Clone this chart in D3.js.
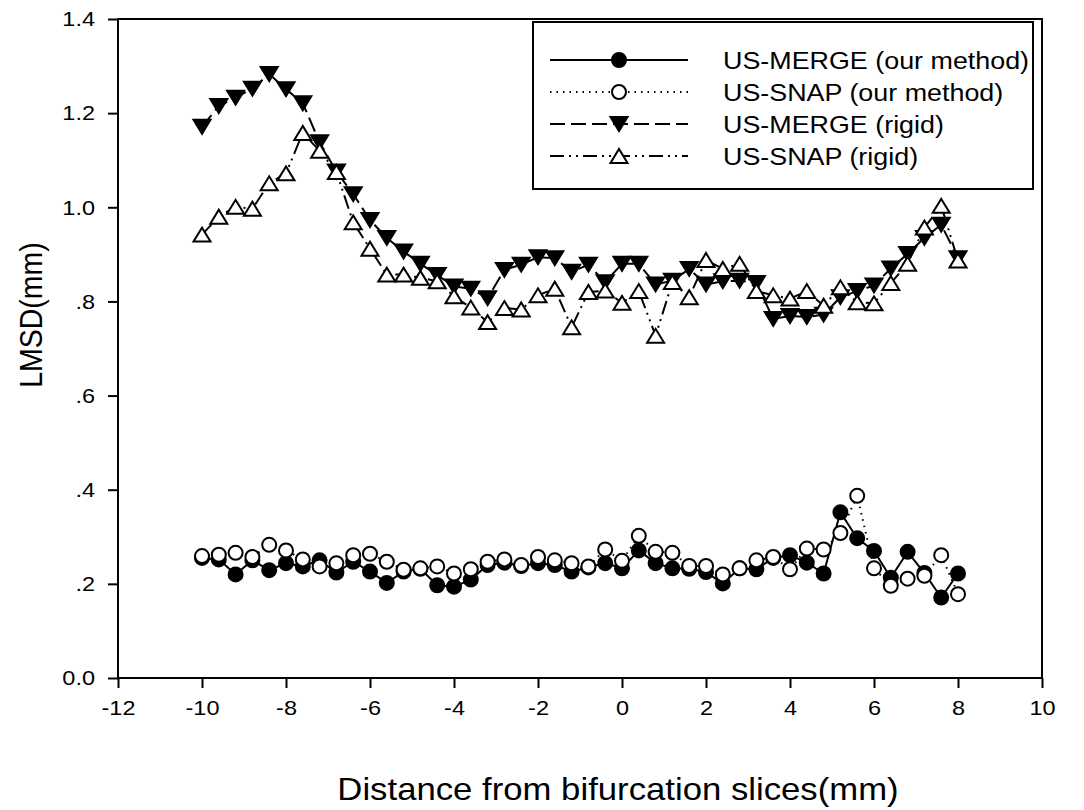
<!DOCTYPE html>
<html>
<head>
<meta charset="utf-8">
<script src="https://cdn.jsdelivr.net/npm/d3@7"></script>
<style>
  html, body { margin: 0; padding: 0; background: #fff; }
  svg { display: block; font-family: "Liberation Sans", Arial, sans-serif; }
</style>
</head>
<body>
<svg id="chart" width="1084" height="810"></svg>
<script>
// Slice positions relative to the bifurcation (mm)
const distance = [-10, -9.6, -9.2, -8.8, -8.4, -8, -7.6, -7.2, -6.8, -6.4, -6, -5.6, -5.2, -4.8, -4.4, -4,
  -3.6, -3.2, -2.8, -2.4, -2, -1.6, -1.2, -0.8, -0.4, 0, 0.4, 0.8, 1.2, 1.6, 2, 2.4, 2.8, 3.2, 3.6, 4,
  4.4, 4.8, 5.2, 5.6, 6, 6.4, 6.8, 7.2, 7.6, 8];

// LMSD (mm) per slice for each registration
const mergeOurs = [0.255, 0.252, 0.220, 0.250, 0.229, 0.244, 0.237, 0.250, 0.224, 0.247, 0.226, 0.202,
  0.226, 0.232, 0.197, 0.194, 0.209, 0.240, 0.245, 0.238, 0.244, 0.240, 0.226, 0.235, 0.244, 0.233,
  0.271, 0.244, 0.233, 0.232, 0.225, 0.201, 0.233, 0.231, 0.255, 0.261, 0.245, 0.222, 0.352, 0.297,
  0.270, 0.213, 0.268, 0.223, 0.171, 0.222];
const snapOurs = [0.259, 0.262, 0.266, 0.257, 0.283, 0.271, 0.252, 0.237, 0.244, 0.261, 0.264, 0.247,
  0.230, 0.233, 0.237, 0.222, 0.231, 0.247, 0.252, 0.240, 0.257, 0.250, 0.244, 0.237, 0.273, 0.249,
  0.302, 0.268, 0.266, 0.238, 0.238, 0.220, 0.233, 0.250, 0.257, 0.231, 0.275, 0.273, 0.308, 0.387,
  0.233, 0.196, 0.211, 0.217, 0.261, 0.178];
const mergeRigid = [1.171, 1.215, 1.233, 1.252, 1.283, 1.251, 1.221, 1.138, 1.076, 1.028, 0.973, 0.935,
  0.906, 0.880, 0.856, 0.832, 0.827, 0.807, 0.867, 0.878, 0.894, 0.892, 0.863, 0.878, 0.841, 0.880,
  0.880, 0.836, 0.844, 0.869, 0.836, 0.843, 0.844, 0.839, 0.763, 0.769, 0.767, 0.772, 0.809, 0.822,
  0.834, 0.870, 0.901, 0.935, 0.963, 0.892];
const snapRigid = [0.942, 0.980, 1.001, 0.997, 1.051, 1.072, 1.158, 1.120, 1.075, 0.968, 0.912, 0.857,
  0.857, 0.850, 0.843, 0.811, 0.787, 0.756, 0.786, 0.783, 0.813, 0.827, 0.745, 0.820, 0.823, 0.797,
  0.822, 0.727, 0.841, 0.809, 0.888, 0.869, 0.880, 0.822, 0.813, 0.806, 0.822, 0.791, 0.830, 0.798,
  0.796, 0.839, 0.880, 0.957, 1.003, 0.887];

const seriesNames = ["US-MERGE (our method)", "US-SNAP (our method)", "US-MERGE (rigid)", "US-SNAP (rigid)"];

const xTicks = [-12, -10, -8, -6, -4, -2, 0, 2, 4, 6, 8, 10];
const xTickLabels = ["-12", "-10", "-8", "-6", "-4", "-2", "0", "2", "4", "6", "8", "10"];
const yTicks = [0, 0.2, 0.4, 0.6, 0.8, 1.0, 1.2, 1.4];
const yTickLabels = ["0.0", ".2", ".4", ".6", ".8", "1.0", "1.2", "1.4"];

const xTitle = "Distance from bifurcation slices(mm)";
const yTitle = "LMSD(mm)";

// ---- layout ----
const svg = d3.select("#chart");
const plot = { left: 118, right: 1042, top: 19, bottom: 678 };
const STRETCH = 1.12;   // glyphs are drawn slightly wide

const x = d3.scaleLinear().domain([-12, 10]).range([plot.left, plot.right]);
const y = d3.scaleLinear().domain([0, 1.4]).range([plot.bottom, plot.top]);

// ---- axes ----
const xAxis = svg.append("g")
  .attr("transform", `translate(0,${plot.bottom})`)
  .call(d3.axisBottom(x).tickValues(xTicks).tickFormat((d, i) => xTickLabels[i]).tickSize(10).tickSizeOuter(0).tickPadding(12));
const yAxis = svg.append("g")
  .attr("transform", `translate(${plot.left},0)`)
  .call(d3.axisLeft(y).tickValues(yTicks).tickFormat((d, i) => yTickLabels[i]).tickSize(10).tickSizeOuter(0).tickPadding(13));

[xAxis, yAxis].forEach(g => {
  g.select(".domain").remove();
  g.selectAll(".tick line").attr("stroke", "#000").attr("stroke-width", 2);
  g.selectAll(".tick text").attr("fill", "#000").attr("font-size", 21);
});
yAxis.selectAll(".tick text").each(function () {
  const t = d3.select(this);
  t.attr("x", +t.attr("x") / STRETCH).attr("transform", `scale(${STRETCH},1)`);
});
xAxis.selectAll(".tick text").attr("transform", `scale(${STRETCH},1)`);

// plot frame
svg.append("rect")
  .attr("x", plot.left).attr("y", plot.top)
  .attr("width", plot.right - plot.left).attr("height", plot.bottom - plot.top)
  .attr("fill", "none").attr("stroke", "#000").attr("stroke-width", 2);

// ---- markers ----
function triPath(size, down) {
  const w = size, h = size * 0.82;
  const s = down ? 1 : -1;
  return `M${-w / 2},${-s * h / 2}L${w / 2},${-s * h / 2}L0,${s * h / 2}Z`;
}
const styles = [
  { values: mergeOurs, dash: null, marker: "circle", fill: "#000" },
  { values: snapOurs, dash: "1.5,5", marker: "circle", fill: "#fff" },
  { values: mergeRigid, dash: "15,6", marker: "down", fill: "#000" },
  { values: snapRigid, dash: "14,5,2,5,2,5", marker: "up", fill: "#fff" }
];

function drawMarker(g, s) {
  if (s.marker === "circle") {
    g.append("circle").attr("r", 7).attr("fill", s.fill).attr("stroke", "#000").attr("stroke-width", 2);
  } else {
    g.append("path").attr("d", triPath(17, s.marker === "down"))
      .attr("fill", s.fill).attr("stroke", "#000").attr("stroke-width", 2).attr("stroke-linejoin", "miter");
  }
}

const line = d3.line().x(d => x(d[0])).y(d => y(d[1]));

styles.forEach(s => {
  const pts = distance.map((d, i) => [d, s.values[i]]);
  svg.append("path").datum(pts)
    .attr("d", line)
    .attr("fill", "none").attr("stroke", "#000").attr("stroke-width", 2)
    .attr("stroke-dasharray", s.dash);
  const mg = svg.append("g").selectAll("g").data(pts).join("g")
    .attr("transform", d => `translate(${x(d[0])},${y(d[1])})`);
  mg.each(function () { drawMarker(d3.select(this), s); });
});

// ---- legend ----
const legend = svg.append("g");
legend.append("rect")
  .attr("x", 533).attr("y", 22).attr("width", 500).attr("height", 167)
  .attr("fill", "#fff").attr("stroke", "#000").attr("stroke-width", 2);
styles.forEach((s, i) => {
  const ly = 60 + i * 32;
  const row = legend.append("g").attr("transform", `translate(0,${ly})`);
  row.append("line").attr("x1", 550).attr("x2", 688).attr("y1", 0).attr("y2", 0)
    .attr("stroke", "#000").attr("stroke-width", 2).attr("stroke-dasharray", s.dash);
  drawMarker(row.append("g").attr("transform", "translate(619,0)"), s);
  row.append("text")
    .attr("transform", `translate(723,0) scale(${STRETCH},1)`)
    .attr("dy", "0.36em").attr("font-size", 24).attr("fill", "#000")
    .text(seriesNames[i]);
});

// ---- axis titles ----
svg.append("text")
  .attr("transform", `translate(618,789) scale(${STRETCH},1)`)
  .attr("text-anchor", "middle").attr("dy", "0.36em")
  .attr("font-size", 31).attr("fill", "#000")
  .text(xTitle);
svg.append("text")
  .attr("transform", `translate(30,315) rotate(-90) scale(1,${STRETCH})`)
  .attr("text-anchor", "middle").attr("dy", "0.36em")
  .attr("font-size", 28.5).attr("fill", "#000")
  .text(yTitle);
</script>
</body>
</html>
